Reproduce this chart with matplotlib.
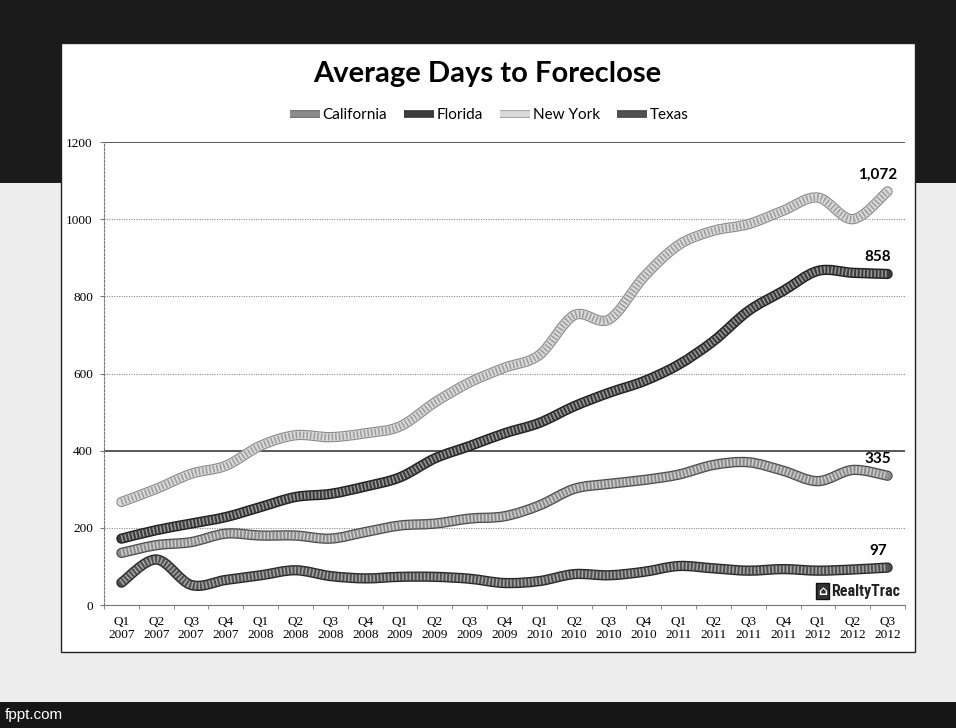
import numpy as np
import matplotlib
matplotlib.use("Agg")
import matplotlib.pyplot as plt
from matplotlib.path import Path
from matplotlib.patches import PathPatch, Rectangle
from matplotlib.lines import Line2D
from matplotlib import font_manager
import matplotlib.patheffects as pe

quarters = ["Q1\n2007", "Q2\n2007", "Q3\n2007", "Q4\n2007",
            "Q1\n2008", "Q2\n2008", "Q3\n2008", "Q4\n2008",
            "Q1\n2009", "Q2\n2009", "Q3\n2009", "Q4\n2009",
            "Q1\n2010", "Q2\n2010", "Q3\n2010", "Q4\n2010",
            "Q1\n2011", "Q2\n2011", "Q3\n2011", "Q4\n2011",
            "Q1\n2012", "Q2\n2012", "Q3\n2012"]

california = [135, 155, 163, 185, 180, 180, 172, 189, 206, 211, 224, 230,
              258, 301, 314, 324, 338, 363, 370, 348, 321, 350, 335]
florida = [172, 194, 211, 228, 254, 280, 288, 307, 331, 380, 412, 445,
           472, 515, 550, 580, 623, 684, 762, 814, 866, 861, 858]
new_york = [267, 301, 340, 361, 413, 440, 435, 445, 463, 525, 577, 615,
            648, 751, 740, 850, 933, 970, 987, 1022, 1056, 1000, 1072]
texas = [58, 118, 52, 65, 77, 90, 75, 69, 73, 73, 68, 57,
         62, 80, 77, 86, 101, 95, 89, 93, 89, 92, 97]

series_names = ["California", "Florida", "New York", "Texas"]
end_labels = ["335", "858", "1,072", "97"]

# colours: edge, body, speckle
styles = {
    "California": ("#4a4a4a", "#8c8c8c", "#d0d0d0"),
    "Florida": ("#1e1e1e", "#3c3c3c", "#9a9a9a"),
    "New York": ("#8a8a8a", "#dadada", "#9c9c9c"),
    "Texas": ("#262626", "#505050", "#a8a8a8"),
}


def smooth_path(xs, ys):
    # excel style smoothed line: cubic bezier through every data point
    pts = np.column_stack([xs, ys]).astype(float)
    n = len(pts)
    verts = [pts[0]]
    codes = [Path.MOVETO]
    for i in range(n - 1):
        p0 = pts[max(i - 1, 0)]
        p1 = pts[i]
        p2 = pts[i + 1]
        p3 = pts[min(i + 2, n - 1)]
        verts += [p1 + (p2 - p0) / 6, p2 - (p3 - p1) / 6, p2]
        codes += [Path.CURVE4] * 3
    return Path(verts, codes)


installed = {f.name for f in font_manager.fontManager.ttflist}
narrow = next((f for f in ["Liberation Sans Narrow", "DejaVu Sans Condensed",
                           "Roboto Condensed", "Roboto"] if f in installed), "DejaVu Sans")

W, H = 956, 728
fig = plt.figure(figsize=(W / 100, H / 100), dpi=100)
fig.patch.set_facecolor("#ededed")

# slide background bands
fig.patches.append(Rectangle((0, 1 - 183 / H), 1, 183 / H, transform=fig.transFigure,
                             facecolor="#1b1b1b", edgecolor="none", zorder=0))
fig.patches.append(Rectangle((0, 0), 1, 26 / H, transform=fig.transFigure,
                             facecolor="#161616", edgecolor="none", zorder=0))
# white chart panel
fig.patches.append(Rectangle((61 / W, 1 - 652 / H), (915 - 61) / W, (652 - 43) / H,
                             transform=fig.transFigure, facecolor="white",
                             edgecolor="#222222", linewidth=1.0, zorder=1))

ax = fig.add_axes([104 / W, 1 - 605 / H, (905 - 104) / W, (605 - 142) / H])
ax.set_facecolor("none")
ax.set_zorder(2)

x = np.arange(len(quarters))
data = {"California": california, "Florida": florida,
        "New York": new_york, "Texas": texas}

for name in series_names:
    edge, body, speck = styles[name]
    path = smooth_path(x, data[name])
    ax.add_patch(PathPatch(path, facecolor="none", edgecolor=edge, lw=7.4,
                           capstyle="round", joinstyle="round", zorder=3))
    ax.add_patch(PathPatch(path, facecolor="none", edgecolor=body, lw=5.8,
                           capstyle="round", joinstyle="round", zorder=3))
    ax.add_patch(PathPatch(path, facecolor="none", edgecolor=speck, lw=5.0,
                           linestyle=(0, (0.22, 0.3)), capstyle="butt", zorder=3))

ax.set_xlim(-0.5, len(quarters) - 0.5)
ax.set_ylim(0, 1200)
ax.set_yticks(np.arange(0, 1201, 200))
ax.set_xticks(x)
ax.set_xticklabels(quarters, fontsize=9.5, family="Liberation Serif", linespacing=1.12)
ax.set_xticks(np.arange(-0.5, len(quarters), 1), minor=True)
ax.tick_params(axis="x", which="major", length=0, pad=8)
ax.tick_params(axis="x", which="minor", length=3, color="#777777", direction="out")
ax.tick_params(axis="y", length=3, color="#777777", pad=5)
for lab in ax.get_yticklabels():
    lab.set_fontsize(9.5)
    lab.set_family("Liberation Serif")

ax.grid(axis="y", color="#8a8a8a", linestyle=(0, (1, 1.2)), linewidth=0.8)
for val, gl in zip(ax.get_yticks(), ax.get_ygridlines()):
    if val in (400, 1200):
        gl.set_linestyle("-")
        gl.set_color("#2a2a2a")
        gl.set_linewidth(1.1)
ax.set_axisbelow(True)

for side in ("top", "right"):
    ax.spines[side].set_visible(False)
ax.spines["left"].set_color("#777777")
ax.spines["left"].set_linestyle((0, (2, 1.5)))
ax.spines["left"].set_linewidth(0.8)
ax.spines["bottom"].set_color("#777777")
ax.spines["bottom"].set_linestyle((0, (1, 1)))
ax.spines["bottom"].set_linewidth(0.8)

# end value labels
for name, lab in zip(series_names, end_labels):
    ax.annotate(lab, (x[-1], data[name][-1]), xytext=(-7, 7),
                textcoords="offset points", ha="center", va="bottom",
                fontsize=11, fontweight="bold", family="Lato", zorder=5)

# title and legend
fig.text(487 / W, 1 - 74 / H, "Average Days to Foreclose", ha="center", va="center",
         fontsize=21, fontweight="bold", family="Lato", zorder=5)

handles = []
for name in series_names:
    edge, body, speck = styles[name]
    handles.append(Line2D([], [], color=body, lw=4.2, solid_capstyle="butt",
                          path_effects=[pe.Stroke(linewidth=5.4, foreground=edge),
                                        pe.Normal()]))
leg = fig.legend(handles, series_names, loc="center", bbox_to_anchor=(489 / W, 1 - 115 / H),
                 ncol=4, frameon=False, handlelength=2.0, handletextpad=0.15,
                 columnspacing=1.1, prop={"family": "Lato", "size": 11})

# source logo
logo = ax.text(0.994, 0.03, "RealtyTrac", transform=ax.transAxes, ha="right", va="center",
               fontsize=11.5, fontweight="bold", family=narrow, color="#222222", zorder=5)
ax.annotate("\u2302", xy=(0, 0.5), xycoords=logo, xytext=(-3, 0),
            textcoords="offset points", ha="right", va="center",
            fontsize=9, fontweight="bold", color="white", zorder=6,
            bbox=dict(boxstyle="square,pad=0.15", facecolor="#333333", edgecolor="#111111"))

fig.text(5 / W, 1 - 715 / H, "fppt.com", ha="left", va="center", color="white",
         fontsize=11, family="Liberation Sans", zorder=5)

fig.savefig("out.png", dpi=100, facecolor=fig.get_facecolor())
